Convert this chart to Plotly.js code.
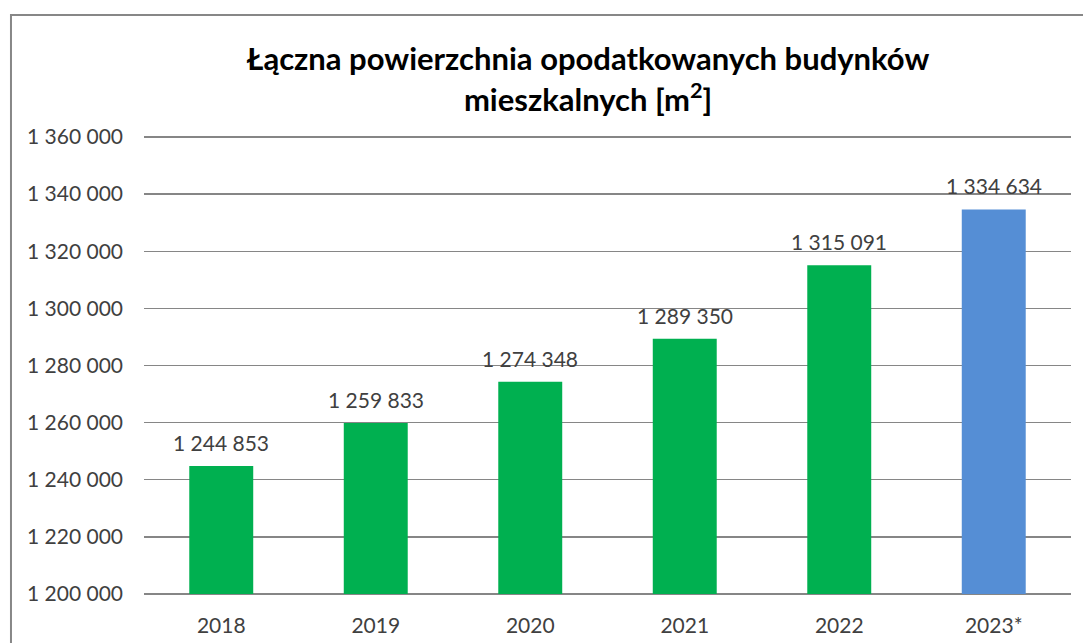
<!DOCTYPE html>
<html><head><meta charset="utf-8">
<script src="https://cdn.plot.ly/plotly-3.0.1.min.js"></script>
<style>body{margin:0;background:#fff}</style>
</head><body><div id="chart" style="width:1083px;height:643px"></div>
<script>
const years = ['2018','2019','2020','2021','2022','2023*'];
const values = [1244853, 1259833, 1274348, 1289350, 1315091, 1334634];
const colors = ['#00B050','#00B050','#00B050','#00B050','#00B050','#558ED5'];
const yTicks = [1200000,1220000,1240000,1260000,1280000,1300000,1320000,1340000,1360000];
const axisMin = 1200000;
const fontFam = 'Lato, "Open Sans", sans-serif';

function fmt(v){ return String(v).replace(/\B(?=(\d{3})+(?!\d))/g, ' '); }

const labels = years.map((y, i) => ({
  x: i, y: values[i], xref: 'x', yref: 'y', text: fmt(values[i]),
  showarrow: false, yanchor: 'bottom', xanchor: 'center', yshift: 9,
  font: {family: fontFam, size: 21, color: '#404040'}
}));

Plotly.newPlot('chart', [{
  type: 'bar', x: years, y: values.map(v => v - axisMin), base: axisMin,
  marker: {color: colors},
  hoverinfo: 'none'
}], {
  width: 1083, height: 643,
  margin: {l: 144, r: 12, t: 126, b: 45},
  separators: ', ',
  bargap: 0.586,
  paper_bgcolor: '#fff', plot_bgcolor: '#fff',
  font: {family: fontFam, color: '#404040'},
  title: {text: '<b>Łączna powierzchnia opodatkowanych budynków<br>mieszkalnych [m<sup>2</sup>]</b>',
    x: 0.543, xref: 'container', xanchor: 'center', y: 0.8905, yref: 'container', yanchor: 'middle',
    font: {family: fontFam, size: 31, color: '#000'}},
  xaxis: {type: 'category', categoryorder: 'array', categoryarray: years, range: [-0.5, years.length - 0.5],
    showgrid: false, showline: false, zeroline: false, ticks: '',
    ticklabelstandoff: 13, tickfont: {family: fontFam, size: 21, color: '#404040'}},
  yaxis: {range: [1198600, 1363851], tickvals: yTicks, tickformat: ',d',
    showgrid: true, gridcolor: '#868686', gridwidth: 1.3, zeroline: false, showline: false, ticks: '',
    ticklabelstandoff: 20, tickfont: {family: fontFam, size: 21, color: '#404040'}},
  annotations: labels,
  shapes: [{type: 'rect', xref: 'paper', yref: 'paper', x0: -0.1435, x1: 1.1, y0: -0.3, y1: 1.235,
    line: {color: '#878787', width: 2}, fillcolor: 'rgba(0,0,0,0)', layer: 'below'}]
}, {staticPlot: true});
</script></body></html>
